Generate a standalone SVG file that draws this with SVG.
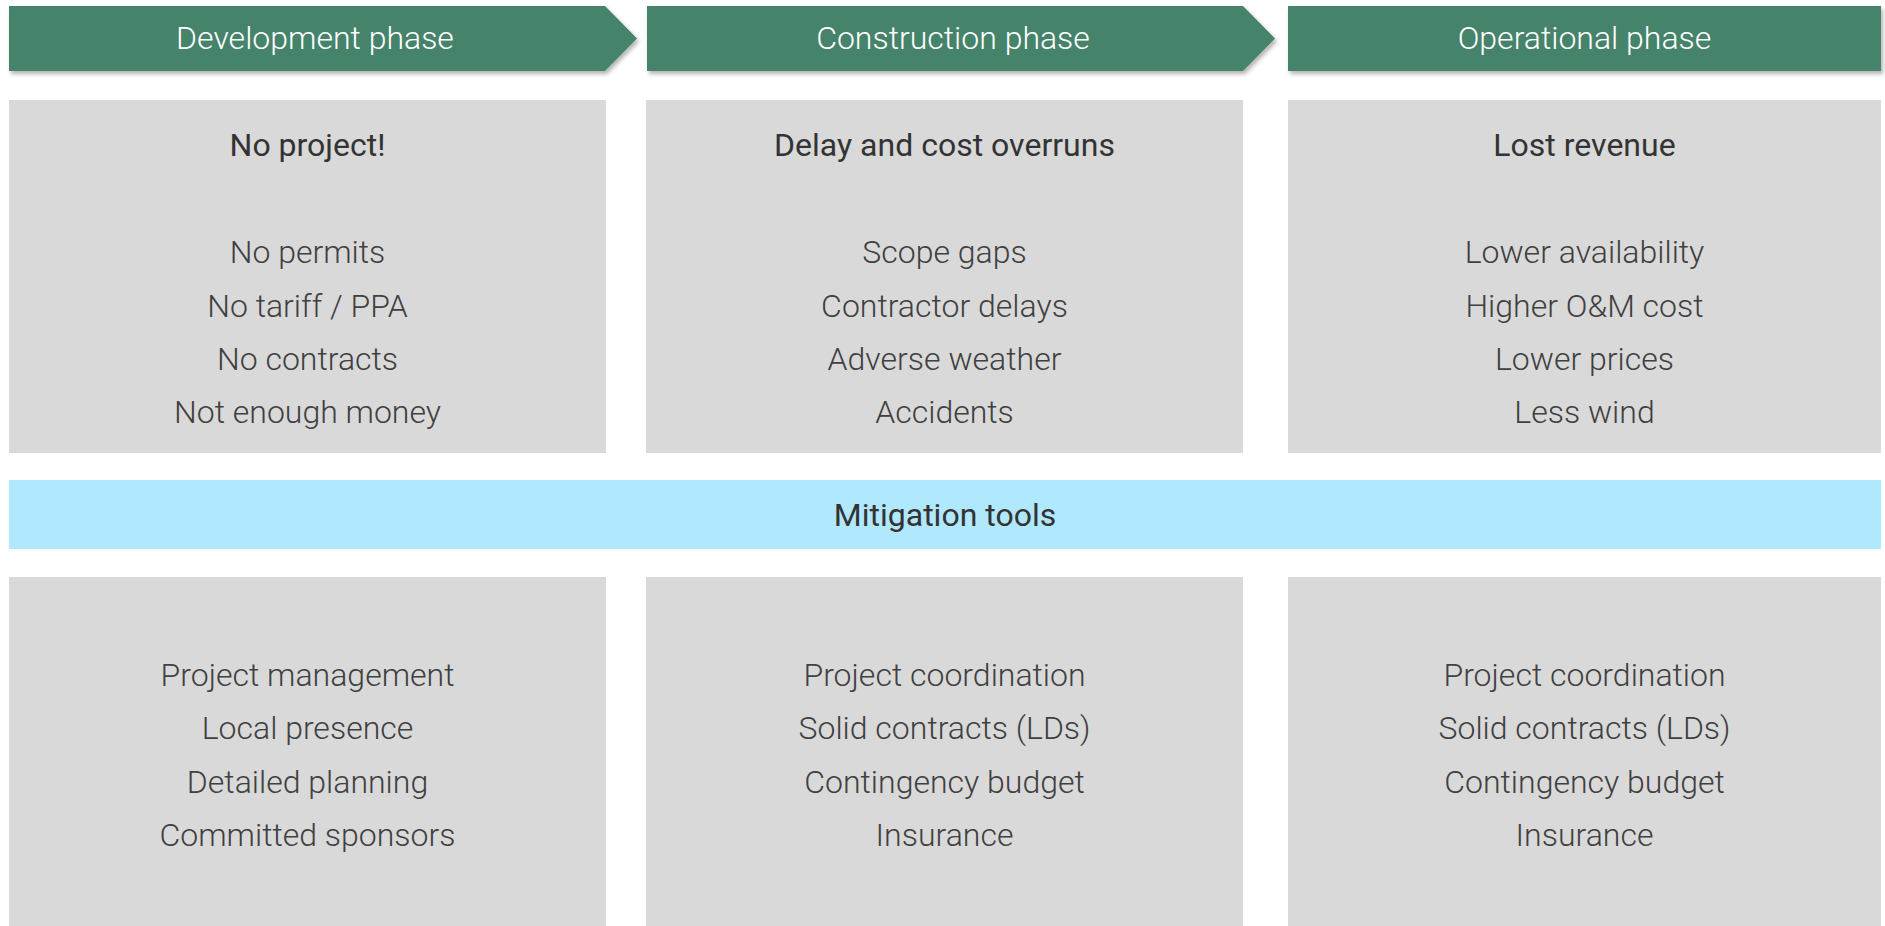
<svg xmlns="http://www.w3.org/2000/svg" width="1885" height="926" viewBox="0 0 1885 926">
<defs>
<filter id="sh" x="-5%" y="-20%" width="110%" height="160%">
<feDropShadow dx="2" dy="3" stdDeviation="2" flood-color="#000" flood-opacity="0.3"/>
</filter>
</defs>
<style>
.hdr{fill:#45836A;filter:url(#sh)}
.box{fill:#D9D9D9}
.band{fill:#B0E8FD}
.ht{font-family:Roboto,"Liberation Sans",sans-serif;font-size:32px;font-weight:300;fill:#FFFFFF;text-anchor:middle}
.tt{font-family:Roboto,"Liberation Sans",sans-serif;font-size:32px;font-weight:400;fill:#333333;text-anchor:middle}
.it{font-family:Roboto,"Liberation Sans",sans-serif;font-size:32px;font-weight:300;fill:#404040;text-anchor:middle}
</style>
<rect width="1885" height="926" fill="#FFFFFF"/>
<g id="connectors"></g>
<g id="header-development">
<polygon class="hdr" points="9,6 605,6 637,38.5 605,71 9,71"/>
<text class="ht" x="315" y="49">Development phase</text>
</g>
<g id="header-construction">
<polygon class="hdr" points="647,6 1243,6 1275,38.5 1243,71 647,71"/>
<text class="ht" x="953" y="49">Construction phase</text>
</g>
<g id="header-operational">
<rect class="hdr" x="1288" y="6" width="593" height="65"/>
<text class="ht" x="1584.5" y="49">Operational phase</text>
</g>
<g id="risk-development">
<rect class="box" x="9" y="100" width="597" height="353"/>
<text class="tt" x="307.5" y="156">No project!</text>
<text class="it" x="307.5" y="263">No permits</text>
<text class="it" x="307.5" y="316.5">No tariff / PPA</text>
<text class="it" x="307.5" y="370">No contracts</text>
<text class="it" x="307.5" y="423">Not enough money</text>
</g>
<g id="risk-construction">
<rect class="box" x="646" y="100" width="597" height="353"/>
<text class="tt" x="944.5" y="156">Delay and cost overruns</text>
<text class="it" x="944.5" y="263">Scope gaps</text>
<text class="it" x="944.5" y="316.5">Contractor delays</text>
<text class="it" x="944.5" y="370">Adverse weather</text>
<text class="it" x="944.5" y="423">Accidents</text>
</g>
<g id="risk-operational">
<rect class="box" x="1288" y="100" width="593" height="353"/>
<text class="tt" x="1584.5" y="156">Lost revenue</text>
<text class="it" x="1584.5" y="263">Lower availability</text>
<text class="it" x="1584.5" y="316.5">Higher O&amp;M cost</text>
<text class="it" x="1584.5" y="370">Lower prices</text>
<text class="it" x="1584.5" y="423">Less wind</text>
</g>
<g id="mitigation-band">
<rect class="band" x="9" y="480" width="1872" height="69"/>
<text class="tt" x="945" y="525.5">Mitigation tools</text>
</g>
<g id="mitigation-development">
<rect class="box" x="9" y="577" width="597" height="349"/>
<text class="it" x="307.5" y="685.5">Project management</text>
<text class="it" x="307.5" y="739">Local presence</text>
<text class="it" x="307.5" y="792.5">Detailed planning</text>
<text class="it" x="307.5" y="846">Committed sponsors</text>
</g>
<g id="mitigation-construction">
<rect class="box" x="646" y="577" width="597" height="349"/>
<text class="it" x="944.5" y="685.5">Project coordination</text>
<text class="it" x="944.5" y="739">Solid contracts (LDs)</text>
<text class="it" x="944.5" y="792.5">Contingency budget</text>
<text class="it" x="944.5" y="846">Insurance</text>
</g>
<g id="mitigation-operational">
<rect class="box" x="1288" y="577" width="593" height="349"/>
<text class="it" x="1584.5" y="685.5">Project coordination</text>
<text class="it" x="1584.5" y="739">Solid contracts (LDs)</text>
<text class="it" x="1584.5" y="792.5">Contingency budget</text>
<text class="it" x="1584.5" y="846">Insurance</text>
</g>
</svg>
